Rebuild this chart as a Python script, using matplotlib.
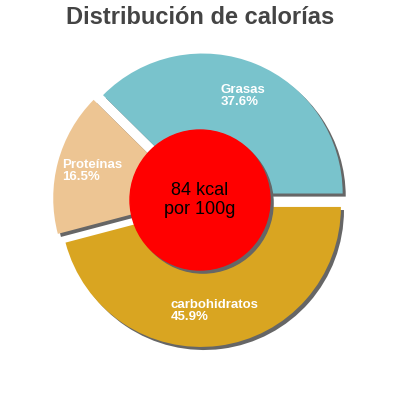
import matplotlib.pyplot as plt
from matplotlib.patches import Circle

plt.rcParams['font.family'] = ['Liberation Sans', 'DejaVu Sans']

# data
labels = ['Grasas', 'Proteínas', 'carbohidratos']
percents = [37.6, 16.5, 45.9]
colors = ['#79c3cc', '#edc593', '#d9a521']
explode = [0.05, 0.05, 0.05]
title = 'Distribución de calorías'
center_text = '84 kcal\npor 100g'

shadow_col = '#666666'
off = 0.022  # shadow offset (data units)

fig = plt.figure(figsize=(4, 4), dpi=100)
ax = fig.add_axes([0, 0, 1, 1])
lim = 200 / 140

# shadow pie (drawn first, offset to the lower right)
sh, _ = ax.pie(percents, explode=explode, colors=[shadow_col] * 3,
               startangle=0, counterclock=True, center=(off, -off),
               radius=1, frame=True)
for w in sh:
    w.set_zorder(1)

texts = [f'{l}\n{p}%' for l, p in zip(labels, percents)]
wedges, lbls = ax.pie(percents, explode=explode, colors=colors, labels=texts,
                      labeldistance=0.75, startangle=0, counterclock=True,
                      radius=1, frame=True,
                      textprops=dict(color='white', fontsize=9.5,
                                     fontweight='bold',
                                     ha='center', va='center',
                                     multialignment='left',
                                     linespacing=1.0))
for w in wedges:
    w.set_zorder(2)
for t in lbls:
    t.set_zorder(5)

ax.set_xlim(-lim, lim)
ax.set_ylim(-lim, lim)
ax.set_aspect('equal')
ax.axis('off')

# center circle with its shadow
ax.add_patch(Circle((off, -off), 0.5, color=shadow_col, zorder=3))
ax.add_patch(Circle((0, 0), 0.5, color='#ff0000', zorder=4))
ax.text(0, 0, center_text, ha='center', va='center', fontsize=13,
        color='black', zorder=6, linespacing=1.1)

fig.text(0.5, 0.955, title, ha='center', va='center', fontsize=17,
         fontweight='bold', color='#444444')

fig.savefig('out.png', dpi=100)
